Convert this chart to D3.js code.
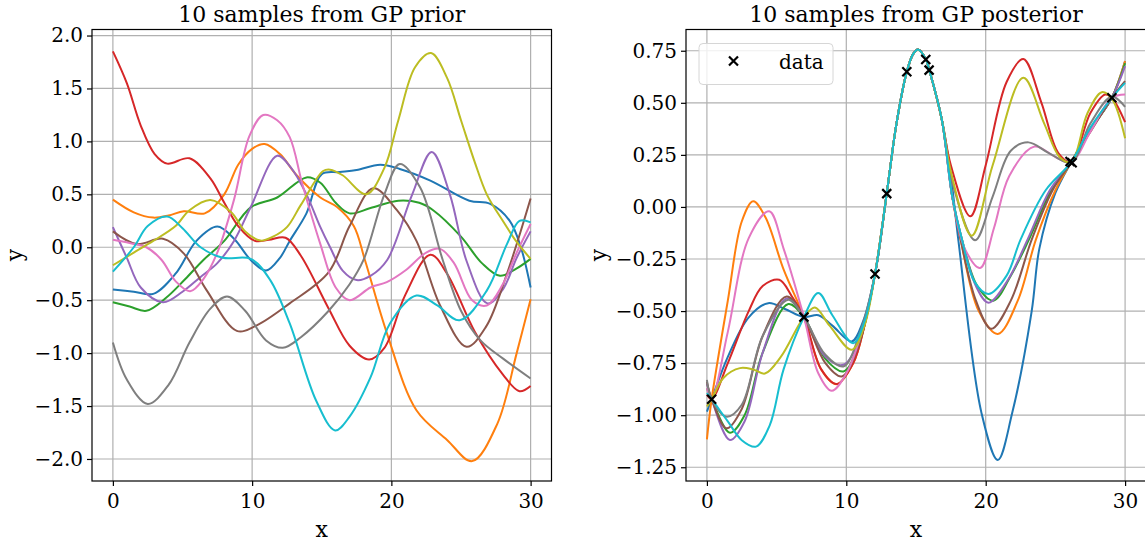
<!DOCTYPE html>
<html>
<head>
<meta charset="utf-8">
<script src="https://cdn.jsdelivr.net/npm/d3@7"></script>
<style>
  body { margin: 0; background: #fff; }
  text { font-family: "DejaVu Serif", serif; }
</style>
</head>
<body>
<div id="d3-container"></div>
<script>
const width = 1145
const height = 545

const xTicks = [0, 10, 20, 30]
const priorYTicks = [-2, -1.5, -1, -0.5, 0, 0.5, 1, 1.5, 2]
const postYTicks = [-1.25, -1, -0.75, -0.5, -0.25, 0, 0.25, 0.5, 0.75]

const tab10 = ["#1f77b4", "#ff7f0e", "#2ca02c", "#d62728", "#9467bd",
  "#8c564b", "#e377c2", "#7f7f7f", "#bcbd22", "#17becf"]

// observed points (x, y)
const dataX = [0.34, 6.96, 12.06, 12.9, 14.34, 15.7, 15.94, 26.05, 26.2, 29.05]
const dataY = [-0.923, -0.529, -0.322, 0.064, 0.649, 0.708, 0.657, 0.218, 0.212, 0.524]

// prior samples as [x, y] knots
const priorBlue = [[0,-0.40],[1.5,-0.42],[2.9,-0.44],[4.5,-0.25],[6,0.06],[7.5,0.195],[8.7,0.08],[9.9,-0.12],[11,-0.22],[12,-0.1],[12.7,0.06],[13.9,0.32],[15,0.69],[16.3,0.71],[17.5,0.73],[19.2,0.78],[20.6,0.74],[22.8,0.63],[25.6,0.44],[27.1,0.41],[28.5,0.25],[29.3,0.0],[30,-0.38]]
const priorOrange = [[0,0.45],[1.5,0.33],[2.9,0.28],[4,0.30],[5.1,0.34],[6.6,0.32],[8,0.5],[9,0.78],[10,0.93],[10.9,0.975],[12,0.88],[13.2,0.68],[14.9,0.47],[16.1,0.38],[17.3,0.2],[18.1,-0.12],[19.7,-0.82],[21.8,-1.54],[24,-1.82],[25.8,-2.02],[27.6,-1.67],[29,-1.0],[30,-0.49]]
const priorGreen = [[0,-0.52],[1.2,-0.56],[2.4,-0.6],[3.8,-0.48],[5.2,-0.3],[6.5,-0.12],[8,0.06],[9.9,0.377],[11.8,0.47],[13.9,0.66],[14.9,0.61],[16,0.42],[17,0.32],[18.5,0.37],[20.5,0.44],[22,0.42],[23,0.35],[25,0.1],[26.5,-0.15],[27.8,-0.27],[29,-0.2],[30,-0.11]]
const priorRed = [[0,1.85],[1,1.55],[2,1.15],[3,0.88],[3.9,0.79],[5.5,0.84],[7,0.65],[8,0.42],[9,0.2],[10.2,0.06],[11.2,0.07],[12.4,0.09],[13.5,-0.08],[15.5,-0.58],[17,-0.93],[18.4,-1.06],[19.5,-0.95],[21,-0.45],[22.8,-0.07],[24,-0.25],[26,-0.8],[28,-1.2],[29.2,-1.36],[30,-1.31]]
const priorPurple = [[0,0.19],[1,-0.1],[2,-0.38],[3.6,-0.52],[5,-0.42],[6.3,-0.28],[7.5,-0.15],[8.7,0.06],[9.9,0.38],[11.8,0.865],[12.8,0.75],[13.9,0.5],[14.9,0.19],[15.6,0.0],[16.5,-0.22],[17.5,-0.31],[18.5,-0.27],[19.7,-0.12],[21.5,0.5],[22.9,0.9],[24.2,0.5],[25.4,-0.13],[26.9,-0.53],[28,-0.4],[29,-0.1],[30,0.15]]
const priorBrown = [[0,0.15],[1.7,0.03],[3.6,0.08],[5.1,-0.06],[6.75,-0.41],[8.9,-0.79],[10.3,-0.74],[12.7,-0.53],[15.5,-0.235],[17,0.2],[18.7,0.557],[20.4,0.35],[21.8,0.06],[23.5,-0.55],[25.4,-0.94],[26.8,-0.75],[28.3,-0.25],[30,0.46]]
const priorPink = [[0,0.07],[1.2,0.04],[2.4,0.0],[3.5,-0.12],[4.5,-0.32],[5.55,-0.415],[6.5,-0.3],[7.5,-0.05],[8.7,0.45],[9.8,1.05],[10.8,1.25],[11.8,1.2],[12.7,1.04],[13.6,0.6],[14.9,0.03],[16,-0.38],[17,-0.5],[18.5,-0.38],[19.67,-0.33],[21,-0.22],[22.5,-0.05],[23.5,-0.015],[24.5,-0.15],[25.8,-0.5],[26.85,-0.55],[28,-0.35],[29,-0.05],[30,0.22]]
const priorGray = [[0,-0.9],[1,-1.25],[2.5,-1.48],[4,-1.3],[5.5,-0.9],[7,-0.58],[8.2,-0.465],[9.5,-0.6],[11,-0.88],[12.2,-0.95],[13.5,-0.85],[15.5,-0.6],[17,-0.35],[18,-0.12],[19.5,0.5],[20.6,0.787],[22.06,0.566],[23.7,-0.125],[25,-0.6],[26.4,-0.88],[28,-1.05],[30,-1.24]]
const priorOlive = [[0,-0.17],[1.5,-0.05],[2.9,0.06],[4.5,0.2],[5.5,0.35],[7,0.447],[8.5,0.33],[9.5,0.15],[10.6,0.063],[11.5,0.1],[12.5,0.19],[13.5,0.4],[15.1,0.72],[15.6,0.733],[16.5,0.68],[18.2,0.5],[19.5,0.75],[20.5,1.2],[21.7,1.7],[22.85,1.834],[24,1.6],[25,1.2],[26,0.8],[26.85,0.5],[28,0.25],[29,0.05],[30,-0.11]]
const priorCyan = [[0,-0.23],[1.5,0.0],[2.5,0.2],[3.9,0.29],[5,0.18],[6.3,0.0],[7.9,-0.1],[9.9,-0.11],[11.3,-0.31],[12.7,-0.72],[14.6,-1.45],[15.96,-1.73],[17,-1.6],[18.5,-1.23],[19.9,-0.72],[21.8,-0.456],[23.3,-0.55],[24.9,-0.69],[26.85,-0.41],[28.3,0.03],[29.2,0.25],[30,0.235]]

// posterior samples: start (x < 12), shared middle part, end (x > 17)
const postShared = [[13.6,0.40],[14.34,0.649],[14.8,0.735],[15.15,0.756],[15.7,0.71],[15.94,0.66],[16.85,0.42]]

const postBlueStart = [[0,-0.983],[0.34,-0.923],[1.5,-0.72],[3,-0.53],[4.4,-0.462],[5.6,-0.49],[6.96,-0.529],[8,-0.52],[9,-0.57],[10.39,-0.646],[11.2,-0.55],[12.06,-0.322],[12.9,0.064]]
const postBlueEnd = [[17.5,0.15],[18.04,-0.16],[19.7,-0.99],[20.87,-1.215],[21.9,-0.99],[23.3,-0.5],[23.85,-0.2],[25,0.067],[26.13,0.215],[27.5,0.37],[29.05,0.524],[30,0.70]]
const postOrangeStart = [[0,-1.116],[0.34,-0.923],[1.5,-0.45],[2.5,-0.07],[3.32,0.027],[4.2,-0.05],[5.5,-0.3],[6.96,-0.529],[8.2,-0.78],[9.31,-0.851],[10.5,-0.75],[11.3,-0.57],[12.06,-0.322],[12.9,0.064]]
const postOrangeEnd = [[17.6,0.05],[18.2,-0.157],[19.5,-0.5],[20.87,-0.61],[22.3,-0.45],[23.6,-0.157],[25,0.08],[26.13,0.215],[27.5,0.37],[29.05,0.524],[30,0.70]]
const postGreenStart = [[0,-0.87],[0.34,-0.923],[1.65,-1.084],[2.7,-1.0],[4,-0.7],[5.84,-0.466],[6.96,-0.529],[8.5,-0.73],[9.79,-0.79],[10.9,-0.66],[12.06,-0.322],[12.9,0.064]]
const postGreenEnd = [[17.6,0.05],[18.3,-0.157],[19.4,-0.38],[20.55,-0.45],[21.8,-0.33],[23.1,-0.157],[24.7,0.08],[26.13,0.215],[27.5,0.37],[29.05,0.524],[30,0.69]]
const postRedStart = [[0,-0.902],[0.34,-0.923],[1.5,-0.75],[3,-0.5],[4,-0.38],[5.19,-0.35],[6.1,-0.43],[6.96,-0.529],[8.2,-0.78],[9.31,-0.85],[10.5,-0.75],[11.3,-0.57],[12.06,-0.322],[12.9,0.064]]
const postRedEnd = [[17.5,0.2],[18.9,-0.045],[20,0.2],[21.5,0.6],[22.7,0.71],[24,0.5],[25.2,0.26],[26.13,0.215],[27.5,0.45],[28.57,0.54],[29.05,0.524],[30,0.407]]
const postPurpleStart = [[0,-0.85],[0.34,-0.923],[1.65,-1.119],[2.7,-1.03],[4,-0.7],[5.72,-0.44],[6.96,-0.529],[8.5,-0.72],[9.79,-0.758],[10.9,-0.64],[12.06,-0.322],[12.9,0.064]]
const postPurpleEnd = [[17.6,0.05],[18.3,-0.157],[19.3,-0.38],[20.2,-0.46],[21.6,-0.35],[23.0,-0.157],[24.6,0.08],[26.13,0.215],[27.5,0.37],[29.05,0.524],[30,0.676]]
const postBrownStart = [[0,-0.84],[0.34,-0.923],[1.41,-1.063],[2.5,-0.97],[4,-0.62],[5.72,-0.43],[6.96,-0.529],[8.5,-0.75],[9.67,-0.814],[10.8,-0.68],[12.06,-0.322],[12.9,0.064]]
const postBrownEnd = [[17.6,0.05],[18.2,-0.157],[19.3,-0.45],[20.4,-0.585],[21.8,-0.45],[23.3,-0.157],[24.8,0.08],[26.13,0.215],[27.5,0.36],[29.05,0.524],[30,0.604]]
const postPinkStart = [[0,-0.87],[0.34,-0.923],[1.5,-0.6],[3,-0.15],[4.47,-0.021],[5.5,-0.2],[6.96,-0.529],[8,-0.8],[8.95,-0.883],[10,-0.8],[11.2,-0.58],[12.06,-0.322],[12.9,0.064]]
const postPinkEnd = [[17.6,0.05],[18.5,-0.2],[19.6,-0.293],[20.6,-0.1],[21.7,0.15],[23.5,0.29],[25,0.24],[26.13,0.215],[27.5,0.36],[29.05,0.524],[30,0.54]]
const postGrayStart = [[0,-0.83],[0.34,-0.923],[1.41,-1.007],[2.5,-0.95],[4,-0.62],[5.84,-0.446],[6.96,-0.529],[8.5,-0.71],[9.79,-0.766],[11,-0.6],[12.06,-0.322],[12.9,0.064]]
const postGrayEnd = [[17.6,0.12],[19.24,-0.16],[20.5,0.05],[21.8,0.27],[23.07,0.31],[24.5,0.26],[26.13,0.215],[27.5,0.4],[29.05,0.53],[30,0.48]]
const postOliveStart = [[0,-0.958],[0.34,-0.923],[1.2,-0.82],[2.37,-0.774],[3.3,-0.78],[4.16,-0.80],[5.3,-0.72],[6.96,-0.529],[7.75,-0.483],[8.8,-0.57],[10.39,-0.686],[11.3,-0.57],[12.06,-0.322],[12.9,0.064]]
const postOliveEnd = [[17.5,0.17],[19.0,-0.138],[20.5,0.2],[22.7,0.62],[24.2,0.4],[25.3,0.24],[26.13,0.215],[27.3,0.45],[28.33,0.551],[29.05,0.52],[30,0.33]]
const postCyanStart = [[0,-0.894],[0.34,-0.923],[1.5,-1.03],[2.5,-1.12],[3.52,-1.151],[4.5,-1.05],[5.5,-0.78],[6.96,-0.529],[7.99,-0.413],[9,-0.52],[10.5,-0.654],[11.3,-0.55],[12.06,-0.322],[12.9,0.064]]
const postCyanEnd = [[17.6,0.05],[18.3,-0.157],[19.2,-0.36],[20.2,-0.418],[21.5,-0.33],[22.5,-0.157],[24.3,0.08],[26.13,0.215],[27.5,0.38],[29.05,0.524],[30,0.596]]

const priorSamples = [priorBlue, priorOrange, priorGreen, priorRed, priorPurple,
  priorBrown, priorPink, priorGray, priorOlive, priorCyan]

const postSamples = [
  [postBlueStart, postBlueEnd], [postOrangeStart, postOrangeEnd],
  [postGreenStart, postGreenEnd], [postRedStart, postRedEnd],
  [postPurpleStart, postPurpleEnd], [postBrownStart, postBrownEnd],
  [postPinkStart, postPinkEnd], [postGrayStart, postGrayEnd],
  [postOliveStart, postOliveEnd], [postCyanStart, postCyanEnd]
].map(([s, e]) => s.concat(postShared, e))

const svg = d3.select("#d3-container")
  .append("svg")
  .attr("width", width)
  .attr("height", height)

function drawPanel(opts) {
  const top = 29.5, bottom = 481
  const xScale = d3.scaleLinear().domain([-1.5, 31.5]).range([opts.left, opts.right])
  const yScale = d3.scaleLinear().domain(opts.yDomain).range([bottom, top])
  const g = svg.append("g")

  // grid
  g.selectAll("line.gx")
    .data(xTicks)
    .join("line")
    .attr("class", "gx")
    .attr("x1", d => xScale(d)).attr("x2", d => xScale(d))
    .attr("y1", top).attr("y2", bottom)
    .attr("stroke", "#b0b0b0").attr("stroke-width", 1.2)
  g.selectAll("line.gy")
    .data(opts.yTicks)
    .join("line")
    .attr("class", "gy")
    .attr("x1", opts.left).attr("x2", opts.right)
    .attr("y1", d => yScale(d)).attr("y2", d => yScale(d))
    .attr("stroke", "#b0b0b0").attr("stroke-width", 1.2)

  svg.append("clipPath").attr("id", opts.id)
    .append("rect")
    .attr("x", opts.left).attr("y", top)
    .attr("width", opts.right - opts.left).attr("height", bottom - top)

  const lineFunc = d3.line()
    .x(d => xScale(d[0]))
    .y(d => yScale(d[1]))
    .curve(d3.curveCatmullRom.alpha(0.5))

  g.append("g").attr("clip-path", `url(#${opts.id})`)
    .selectAll("path.sample")
    .data(opts.samples)
    .join("path")
    .attr("class", "sample")
    .attr("d", d => lineFunc(d))
    .attr("fill", "none")
    .attr("stroke", (d, i) => tab10[i])
    .attr("stroke-width", 2)

  if (opts.points) {
    g.selectAll("path.obs")
      .data(opts.points)
      .join("path")
      .attr("class", "obs")
      .attr("transform", d => `translate(${xScale(d[0])},${yScale(d[1])})`)
      .attr("d", "M-4.5,-4.5L4.5,4.5M-4.5,4.5L4.5,-4.5")
      .attr("stroke", "#000").attr("stroke-width", 2.2)
  }

  // frame
  g.append("rect")
    .attr("x", opts.left).attr("y", top)
    .attr("width", opts.right - opts.left).attr("height", bottom - top)
    .attr("fill", "none").attr("stroke", "#000").attr("stroke-width", 1.2)

  const xAxis = g.append("g")
    .attr("transform", `translate(0,${bottom})`)
    .call(d3.axisBottom(xScale).tickValues(xTicks).tickSize(5).tickPadding(8))
  const yAxis = g.append("g")
    .attr("transform", `translate(${opts.left},0)`)
    .call(d3.axisLeft(yScale).tickValues(opts.yTicks).tickFormat(d3.format(opts.fmt)).tickSize(5).tickPadding(4))
  ;[xAxis, yAxis].forEach(a => {
    a.select(".domain").remove()
    a.selectAll("line").attr("stroke", "#000").attr("stroke-width", 1.2)
    a.selectAll("text")
      .attr("font-family", "DejaVu Serif").attr("font-size", 20).attr("fill", "#000")
  })

  const mid = (opts.left + opts.right) / 2
  g.append("text")
    .attr("x", mid).attr("y", 22)
    .attr("text-anchor", "middle").attr("font-size", 22)
    .text(opts.title)
  g.append("text")
    .attr("x", mid).attr("y", 537)
    .attr("text-anchor", "middle").attr("font-size", 22)
    .text("x")
  g.append("text")
    .attr("transform", `translate(${opts.yLabelX},255) rotate(-90)`)
    .attr("text-anchor", "middle").attr("font-size", 22)
    .text("y")

  return { xScale, yScale, g }
}

drawPanel({
  id: "clip-prior", left: 92, right: 551.5,
  yDomain: [-2.208, 2.057], yTicks: priorYTicks, fmt: ".1f",
  samples: priorSamples, title: "10 samples from GP prior", yLabelX: 22
})

const post = drawPanel({
  id: "clip-post", left: 686, right: 1146,
  yDomain: [-1.316, 0.852], yTicks: postYTicks, fmt: ".2f",
  samples: postSamples, points: d3.zip(dataX, dataY),
  title: "10 samples from GP posterior", yLabelX: 606
})

// legend
const legend = post.g.append("g")
legend.append("rect")
  .attr("x", 699).attr("y", 43.5).attr("width", 134).attr("height", 41).attr("rx", 4)
  .attr("fill", "#fff").attr("fill-opacity", 0.8)
  .attr("stroke", "#d6d6d6").attr("stroke-width", 1)
legend.append("path")
  .attr("transform", "translate(733.5,61)")
  .attr("d", "M-4.5,-4.5L4.5,4.5M-4.5,4.5L4.5,-4.5")
  .attr("stroke", "#000").attr("stroke-width", 2.2)
legend.append("text")
  .attr("x", 779).attr("y", 69)
  .attr("font-size", 20)
  .text("data")
</script>
</body>
</html>
